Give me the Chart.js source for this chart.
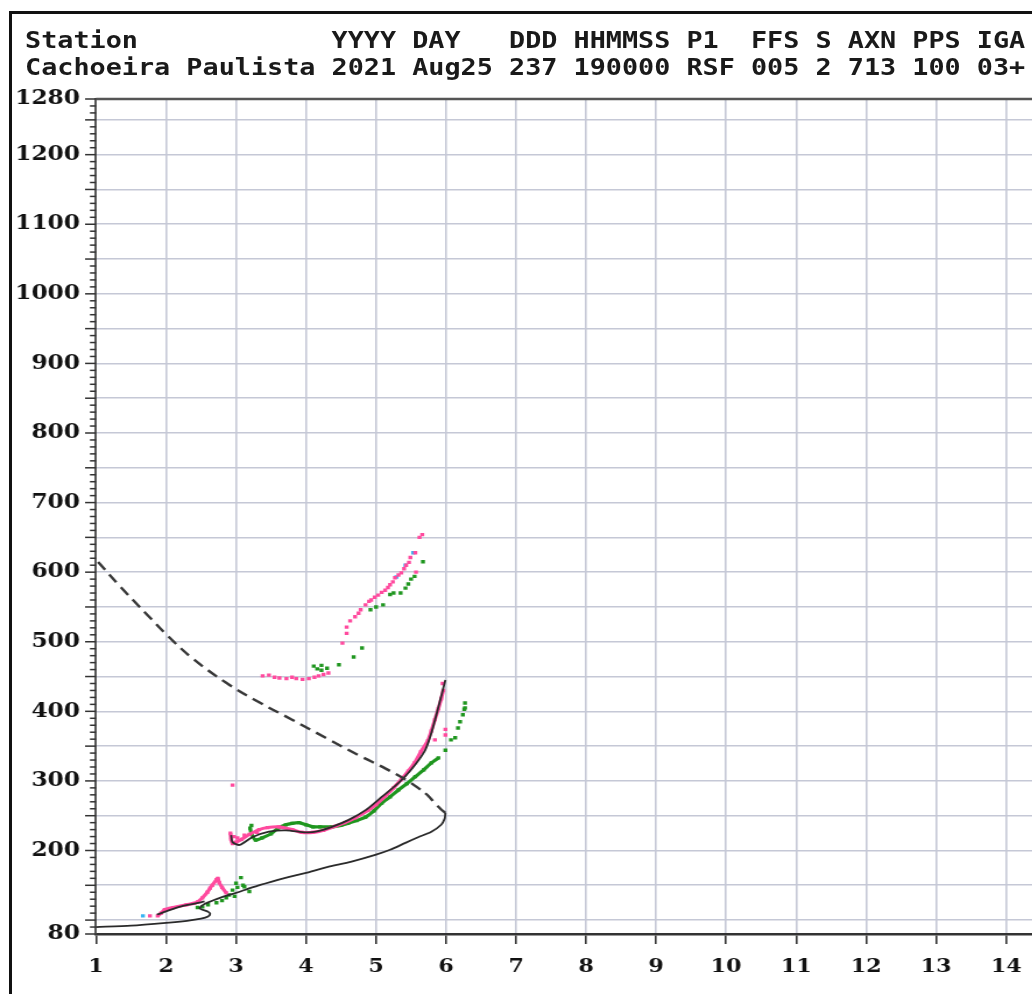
<!DOCTYPE html>
<html>
<head>
<meta charset="utf-8">
<title>Ionogram – Cachoeira Paulista 2021-08-25 19:00 UT</title>
<script src="https://cdn.jsdelivr.net/npm/chart.js@4.4.1/dist/chart.umd.min.js"></script>
<style>
  html, body { margin: 0; padding: 0; background: #fff; }
  body { width: 1032px; height: 994px; overflow: hidden; position: relative; }
  #frame { position: absolute; left: 9px; top: 11px; width: 1100px; height: 1100px;
           border-left: 3px solid #111; border-top: 3px solid #111; }
  /* the whole ionogram is drawn slightly widened, as the station software exports it */
  #stretch { position: absolute; left: 0; top: 0; width: 949px; height: 994px;
             transform: scaleX(1.165); transform-origin: 0 0; }
  #hdr { position: absolute; left: 21.5px; top: 26.5px; margin: 0; color: #1a1a1a;
         font: bold 23px/27px "DejaVu Sans Mono", monospace; white-space: pre; }
  #plot { position: absolute; left: 0; top: 0; }
</style>
</head>
<body>
<div id="frame"></div>
<div id="stretch">
  <pre id="hdr"></pre>
  <canvas id="plot" width="949" height="994"></canvas>
</div>
<script>
// ---- header ----
const headerNames  = 'Station            YYYY DAY   DDD HHMMSS P1  FFS S AXN PPS IGA';
const headerValues = 'Cachoeira Paulista 2021 Aug25 237 190000 RSF 005 2 713 100 03+';

// ---- axes ----
const freqMin = 1, freqMax = 15;            // MHz
const heightMin = 80, heightMax = 1280;     // km
const heightLabels = [80, 200, 300, 400, 500, 600, 700, 800, 900, 1000, 1100, 1200, 1280];

// ---- true-height electron density profile (plasma frequency vs height) ----
const profileFreq   = [1.00, 1.50, 2.00, 2.30, 2.50, 2.60, 2.63, 2.60, 2.48, 2.55, 2.80, 3.00, 3.23, 3.50, 3.76, 4.00, 4.30, 4.65, 5.00, 5.20, 5.42, 5.60, 5.79, 5.93, 5.98, 5.99];
const profileHeight = [90,   92,   96,   99,   102,  105,  109,  112,  117,  123,  133,  139,  147,  155,  162,  168,  176,  184,  194,  201,  211,  219,  227,  237,  246,  254];

// topside extrapolation above hmF2
const topsideFreq   = [5.99, 5.93, 5.84, 5.74, 5.60, 5.42, 5.13, 4.75, 4.28, 3.80, 3.33, 2.86, 2.38, 2.02, 1.72, 1.34, 1.00];
const topsideHeight = [254,  259,  268,  279,  290,  302,  318,  337,  362,  388,  413,  441,  476,  509,  540,  580,  618];

// fitted virtual-height traces (O mode)
const eFitFreq   = [1.87, 2.19, 2.48, 2.55];
const eFitHeight = [108,  119,  125,  127];
const oFitFreq   = [2.93, 2.95, 3.05, 3.23, 3.47, 3.71, 4.00, 4.14, 4.37, 4.61, 4.85, 5.08, 5.32, 5.50, 5.70, 5.79, 5.89, 5.99];
const oFitHeight = [222,  212,  208,  219,  227,  229,  226,  227,  234,  244,  258,  277,  297,  316,  344,  369,  406,  445];

// ---- scaled echoes ----
// ordinary (O) F-trace
const oTraceFreq   = [2.92, 2.93, 2.95, 3.00, 3.08, 3.19, 3.33, 3.45, 3.61, 3.80, 3.94, 4.10, 4.25, 4.42, 4.55, 4.70, 4.89, 5.00, 5.13, 5.25, 5.36, 5.46, 5.55, 5.64, 5.74, 5.79, 5.84, 5.89, 5.93, 5.96];
const oTraceHeight = [225,  216,  210,  212,  216,  223,  230,  233,  234,  230,  226,  226,  229,  235,  240,  247,  258,  266,  278,  290,  302,  314,  326,  342,  358,  372,  388,  404,  418,  430];
// ordinary E / Es echoes
const oETraceFreq   = [1.88, 1.93, 1.98, 2.10, 2.29, 2.40, 2.45, 2.52, 2.59, 2.63, 2.66, 2.72, 2.74, 2.76, 2.80, 2.86];
const oETraceHeight = [106,  110,  115,  118,  122,  124,  126,  132,  140,  146,  150,  158,  160,  154,  147,  139];
// isolated O echoes (including the second-hop F trace)
const oDotsFreq   = [1.77, 2.95, 5.84, 5.99, 5.99, 5.95, 2.97, 3.02, 3.12, 3.30,
                     3.38, 3.47, 3.55, 3.62, 3.72, 3.80, 3.86, 3.95, 4.04, 4.12, 4.18, 4.25, 4.32,
                     4.52, 4.58, 4.58, 4.63, 4.70, 4.75, 4.78, 4.85, 4.90, 4.93, 4.98, 5.03, 5.08, 5.13,
                     5.17, 5.20, 5.24, 5.27, 5.32, 5.36, 5.40, 5.43, 5.47, 5.49, 5.57, 5.56, 5.62, 5.66];
const oDotsHeight = [106,  294,  359,  374,  366,  440,  220,  218,  222,  226,
                     451,  452,  449,  448,  447,  449,  447,  446,  447,  449,  451,  453,  455,
                     498,  512,  521,  530,  536,  541,  546,  553,  558,  560,  564,  567,  571,  574,
                     578,  582,  586,  592,  596,  599,  605,  610,  614,  621,  600,  628,  650,  654];

// extraordinary (X) F-trace
const xTraceFreq   = [3.20, 3.22, 3.28, 3.37, 3.50, 3.60, 3.71, 3.80, 3.90, 4.00, 4.10, 4.20, 4.37, 4.50, 4.60, 4.72, 4.85, 4.97, 5.08, 5.20, 5.32, 5.44, 5.56, 5.68, 5.79, 5.89];
const xTraceHeight = [232,  224,  215,  218,  224,  232,  237,  239,  240,  237,  234,  234,  234,  236,  239,  243,  248,  257,  268,  277,  287,  296,  306,  316,  326,  333];
// isolated X echoes
const xDotsFreq   = [5.99, 6.07, 6.13, 6.17, 6.20, 6.24, 6.26, 6.27, 6.27,
                     2.45, 2.52, 2.60, 2.72, 2.80, 2.86, 2.90, 2.95, 2.98, 3.00, 3.02, 3.07, 3.10, 3.12, 3.19, 3.22,
                     4.11, 4.16, 4.22, 4.22, 4.30, 4.47, 4.68, 4.80, 4.92, 5.00, 5.10, 5.20, 5.25, 5.35, 5.42, 5.46, 5.50, 5.55, 5.67];
const xDotsHeight = [344,  359,  362,  376,  385,  395,  403,  412,  405,
                     118,  119,  122,  125,  128,  132,  136,  143,  134,  153,  147,  161,  150,  148,  141,  236,
                     465,  461,  459,  466,  462,  467,  478,  491,  546,  550,  553,  568,  570,  570,  577,  583,  590,  594,  615];
// echoes of uncertain polarisation
const uDotsFreq   = [1.67, 5.29, 5.42, 5.53];
const uDotsHeight = [106,  593,  610,  628];

const PINK = '#ff4a9e', GREEN = '#1f961f', CYAN = '#37b3f2', INK = '#2a2a2a', GRID = '#c5c8d6';

const pts = (fs, hs) => fs.map((f, i) => ({ x: f, y: hs[i] }));

document.getElementById('hdr').textContent = headerNames + '\n' + headerValues;

// outer plot frame line on top and the graded height ticks
const frameAndTicks = {
  id: 'frameAndTicks',
  afterDraw(chart) {
    const { ctx, chartArea: a, scales: { y } } = chart;
    ctx.save();
    ctx.strokeStyle = '#555';
    ctx.lineWidth = 2.5;
    ctx.beginPath(); ctx.moveTo(a.left, a.top); ctx.lineTo(a.right, a.top); ctx.stroke();
    ctx.strokeStyle = '#333';
    ctx.lineWidth = 1.5;
    y.ticks.forEach(t => {
      const major = t.value % 50 === 0 || t.value === heightMin || t.value === heightMax;
      const len = major ? 9.4 : 5.2;
      const py = y.getPixelForValue(t.value);
      ctx.beginPath(); ctx.moveTo(a.left - len, py); ctx.lineTo(a.left, py); ctx.stroke();
    });
    ctx.restore();
  }
};

const lineSet = (data, color, width, order, dash, tension) => ({
  data, showLine: true, borderColor: color, borderWidth: width, borderDash: dash || [],
  pointRadius: 0, tension: tension === undefined ? 0.25 : tension, fill: false, order
});
const traceSet = (data, color, order) => ({
  data, showLine: true, borderColor: color, borderWidth: 3.2, tension: 0.2,
  pointStyle: 'rect', pointRadius: 2.3, pointBackgroundColor: color, pointBorderWidth: 0, order
});
const dotSet = (data, color, order) => ({
  data, showLine: false, pointStyle: 'rect', pointRadius: 2.4,
  pointBackgroundColor: color, pointBorderWidth: 0, order
});

new Chart(document.getElementById('plot'), {
  type: 'scatter',
  data: {
    datasets: [
      lineSet(pts(topsideFreq, topsideHeight), '#383838', 2.4, 0, [10, 6], 0.4),
      lineSet(pts(profileFreq, profileHeight), INK, 1.8, 1),
      lineSet(pts(eFitFreq, eFitHeight), INK, 1.8, 1),
      lineSet(pts(oFitFreq, oFitHeight), INK, 1.8, 1),
      traceSet(pts(oTraceFreq, oTraceHeight), PINK, 2),
      traceSet(pts(oETraceFreq, oETraceHeight), PINK, 2),
      dotSet(pts(oDotsFreq, oDotsHeight), PINK, 2),
      dotSet(pts(uDotsFreq, uDotsHeight), CYAN, 2),
      traceSet(pts(xTraceFreq, xTraceHeight), GREEN, 3),
      dotSet(pts(xDotsFreq, xDotsHeight), GREEN, 3)
    ]
  },
  options: {
    responsive: false,
    animation: false,
    devicePixelRatio: 1,
    layout: { padding: { left: 0, right: 20.6, top: 99, bottom: 0 } },
    plugins: { legend: { display: false }, tooltip: { enabled: false } },
    scales: {
      x: {
        type: 'linear', min: freqMin, max: freqMax,
        afterFit: s => { s.height = 60; },
        ticks: {
          stepSize: 1, autoSkip: false, maxRotation: 0, padding: 12, color: '#111',
          font: { family: 'DejaVu Serif', weight: 'bold', size: 19 }
        },
        grid: {
          color: c => (c.tick && c.tick.value === freqMin) ? 'rgba(0,0,0,0)' : GRID,
          lineWidth: 1.6, drawTicks: true, tickLength: 10, tickColor: '#333', tickWidth: 1.6
        },
        border: { display: true, color: '#333', width: 2.5 }
      },
      y: {
        type: 'linear', min: heightMin, max: heightMax,
        afterFit: s => { s.width = 82.4; },
        ticks: {
          stepSize: 10, maxTicksLimit: 500, autoSkip: false, padding: 13.7, color: '#111',
          font: { family: 'DejaVu Serif', weight: 'bold', size: 20 },
          callback: v => heightLabels.includes(v) ? String(v) : ''
        },
        grid: {
          color: c => (c.tick && c.tick.value % 50 === 0 && c.tick.value > heightMin && c.tick.value < heightMax) ? GRID : 'rgba(0,0,0,0)',
          lineWidth: 1.6, drawTicks: false
        },
        border: { display: true, color: '#555', width: 2 }
      }
    }
  },
  plugins: [frameAndTicks]
});
</script>
</body>
</html>
